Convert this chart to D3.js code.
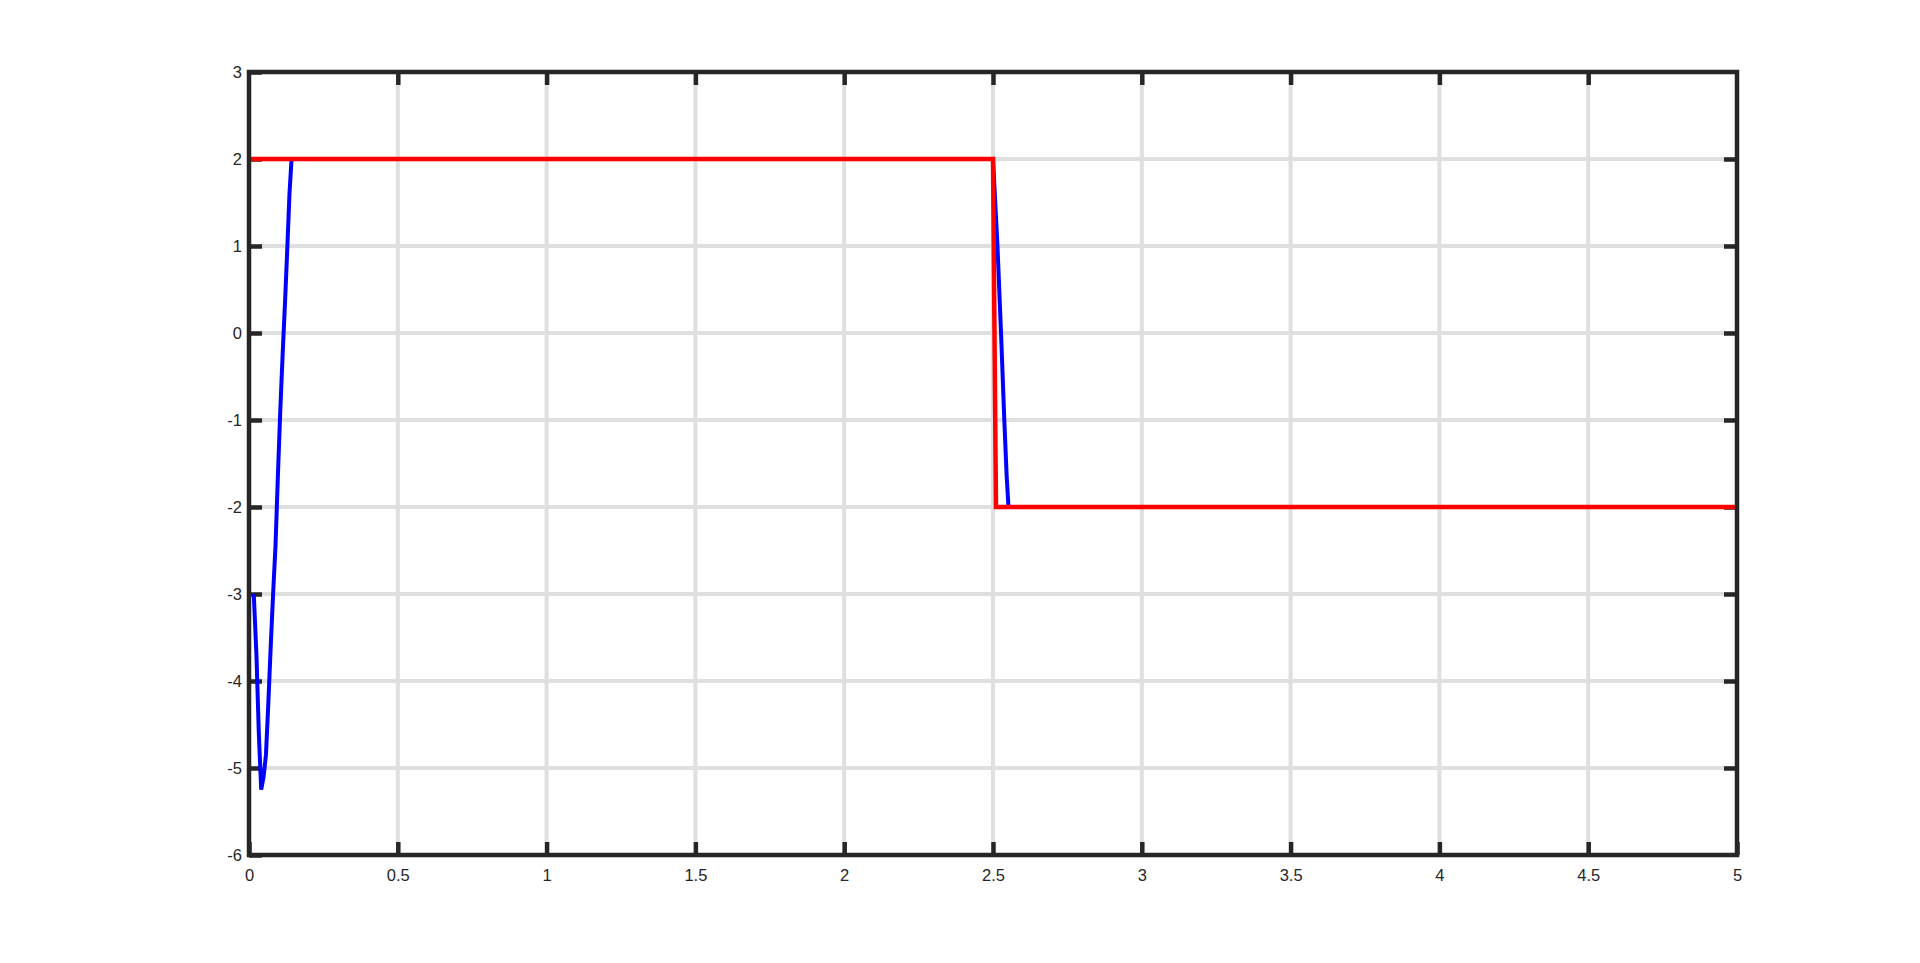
<!DOCTYPE html>
<html>
<head>
<meta charset="utf-8">
<script src="https://cdn.jsdelivr.net/npm/d3@7"></script>
<style>
  body { margin: 0; background: #fff; overflow: hidden; }
  svg { display: block; }
  .tick text { font-family: "Liberation Sans", Arial, sans-serif; font-size: 16.5px; fill: #262626; }
</style>
</head>
<body>
<svg width="1920" height="963"></svg>
<script>
// data
var xTicks = [0, 0.5, 1, 1.5, 2, 2.5, 3, 3.5, 4, 4.5, 5]
var yTicks = [3, 2, 1, 0, -1, -2, -3, -4, -5, -6]

// blue: measured response
var blueT = [0.016, 0.025, 0.033, 0.041, 0.049, 0.057, 0.065, 0.073, 0.081, 0.089, 0.097, 0.105, 0.113, 0.121, 0.129, 0.136, 0.143, 2.5, 2.515, 2.527, 2.538, 2.546, 2.552, 5]
var blueV = [-3, -3.7, -4.6, -5.25, -5.1, -4.85, -4.25, -3.6, -3.0, -2.45, -1.65, -0.9, -0.25, 0.35, 1.0, 1.6, 2.0, 2, 1, 0, -1, -1.65, -2, -2]

// red: reference square step
var redT = [0, 2.5, 2.51, 5]
var redV = [2, 2, -2, -2]

const svg = d3.select("svg")
const pLeft = 249, pTop = 72, pRight = 1737, pBottom = 855
const ink = "#262626"

const x = d3.scaleLinear().domain([0, 5]).range([pLeft, pRight])
const y = d3.scaleLinear().domain([-6, 3]).range([pBottom, pTop])

// grid lines
svg.append("g")
    .selectAll("line")
    .data(xTicks.slice(1, -1))
    .enter().append("line")
    .attr("x1", d => x(d)).attr("x2", d => x(d))
    .attr("y1", pTop).attr("y2", pBottom)
    .attr("stroke", "#dfdfdf").attr("stroke-width", 4)
svg.append("g")
    .selectAll("line")
    .data(yTicks.slice(1, -1))
    .enter().append("line")
    .attr("x1", pLeft).attr("x2", pRight)
    .attr("y1", d => y(d)).attr("y2", d => y(d))
    .attr("stroke", "#dfdfdf").attr("stroke-width", 4)

// axes with inward ticks on all four sides
function styleAxis(g) {
    g.select(".domain").remove()
    g.selectAll(".tick line").attr("stroke", ink).attr("stroke-width", 4.5)
}
function noLabels(g) {
    g.selectAll(".tick text").remove()
}
svg.append("g").attr("transform", `translate(0,${pBottom})`)
    .call(d3.axisBottom(x).tickValues(xTicks).tickSizeInner(-13).tickSizeOuter(0).tickPadding(14).tickFormat(d => String(d)))
    .call(styleAxis)
svg.append("g").attr("transform", `translate(0,${pTop})`)
    .call(d3.axisTop(x).tickValues(xTicks.slice(1, -1)).tickSizeInner(-13).tickSizeOuter(0))
    .call(styleAxis).call(noLabels)
svg.append("g").attr("transform", `translate(${pLeft},0)`)
    .call(d3.axisLeft(y).tickValues(yTicks).tickSizeInner(-13).tickSizeOuter(0).tickPadding(7).tickFormat(d => String(d)))
    .call(styleAxis)
svg.append("g").attr("transform", `translate(${pRight},0)`)
    .call(d3.axisRight(y).tickValues(yTicks.slice(1, -1)).tickSizeInner(-13).tickSizeOuter(0))
    .call(styleAxis).call(noLabels)

// data lines
const line = d3.line().x(d => x(d[0])).y(d => y(d[1]))
svg.append("path")
    .datum(blueT.map((t, i) => [t, blueV[i]]))
    .attr("fill", "none").attr("stroke", "#0000ff").attr("stroke-width", 4)
    .attr("d", line)
svg.append("path")
    .datum(redT.map((t, i) => [t, redV[i]]))
    .attr("fill", "none").attr("stroke", "#ff0000").attr("stroke-width", 4.5)
    .attr("d", line)

// box
svg.append("rect")
    .attr("x", pLeft).attr("y", pTop).attr("width", pRight - pLeft).attr("height", pBottom - pTop)
    .attr("fill", "none").attr("stroke", ink).attr("stroke-width", 4.5)
</script>
</body>
</html>
